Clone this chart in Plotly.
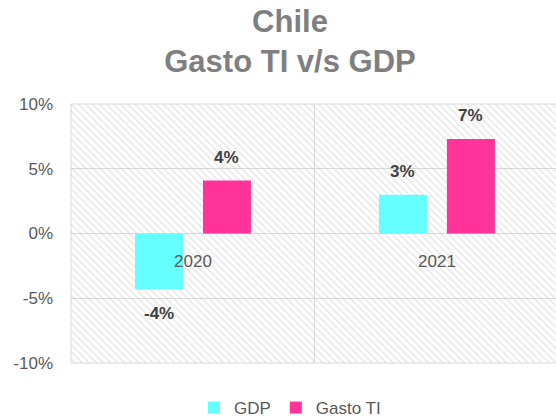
import plotly.graph_objects as go

# ---- data ----
categories = ["2020", "2021"]
gdp = [-4.3, 3.0]
gasto_ti = [4.1, 7.3]
series_names = ["GDP", "Gasto TI"]
y_tick_vals = [-10, -5, 0, 5, 10]
y_tick_text = ["-10%", "-5%", "0%", "5%", "10%"]
title_lines = ["Chile", "Gasto TI v/s GDP"]

colors = ["#66FFFF", "#FF3399"]
grid = "#D9D9D9"
font_family = "Liberation Sans, Arial, sans-serif"

fig = go.Figure()

# hatched plot-area background (decoration on a hidden unit axis)
fig.add_trace(go.Scatter(
    x=[0, 1, 1, 0, 0], y=[0, 0, 1, 1, 0], mode="lines", fill="toself",
    line=dict(width=0), fillcolor="rgba(255,255,255,0)",
    fillpattern=dict(shape="\\", size=5, solidity=0.3, fgcolor="#CFCFCF",
                     bgcolor="rgba(255,255,255,0)"),
    hoverinfo="skip", showlegend=False, xaxis="x", yaxis="y",
))

for name, vals, col in zip(series_names, [gdp, gasto_ti], colors):
    fig.add_trace(go.Bar(
        x=categories, y=vals, name=name, marker=dict(color=col, line=dict(width=0)),
        xaxis="x2", yaxis="y2", hoverinfo="skip",
    ))

# data labels
shifts = [-34, 34]
for vals, xs in zip([gdp, gasto_ti], shifts):
    for i, (c, v) in enumerate(zip(categories, vals)):
        fig.add_annotation(
            x=i, y=v, xref="x2", yref="y2", text=f"<b>{round(v):d}%</b>", showarrow=False,
            xshift=xs, yshift=23 if v >= 0 else -24, yanchor="middle", xanchor="center",
            font=dict(family=font_family, size=17, color="#404040"),
        )

# plot-area border (left, top, bottom)
fig.add_shape(type="path", xref="paper", yref="paper",
              path="M 1.01,1 L 0,1 L 0,0 L 1.01,0",
              line=dict(color=grid, width=1), layer="above")

fig.update_layout(
    width=556, height=420,
    margin=dict(l=71, r=0, t=104, b=57, autoexpand=False),
    paper_bgcolor="white", plot_bgcolor="white",
    barmode="group", bargap=0.443, bargroupgap=0.294,
    title=dict(text="<b>" + "<br>".join(title_lines) + "</b>", x=290 / 556, xanchor="center",
               xref="container", yref="container", y=1 - 32 / 420, yanchor="top",
               font=dict(family=font_family, size=31, color="#7F7F7F")),
    xaxis=dict(domain=[0, 1], range=[0, 1], visible=False, fixedrange=True),
    yaxis=dict(domain=[0, 1], range=[0, 1], visible=False, fixedrange=True),
    xaxis2=dict(overlaying="x", type="category", anchor="free", position=0.5,
                range=[-0.5, 1.488], tickson="boundaries", showgrid=True,
                gridcolor=grid, gridwidth=1, ticks="", showline=False,
                ticklabelstandoff=15,
                tickfont=dict(family=font_family, size=17, color="#595959")),
    yaxis2=dict(overlaying="y", side="left", range=[-10, 10], tickvals=y_tick_vals,
                ticktext=y_tick_text, showgrid=True, gridcolor=grid, gridwidth=1,
                zeroline=False, showline=False, ticks="", ticklabelstandoff=17,
                tickfont=dict(family=font_family, size=17, color="#595959")),
    legend=dict(orientation="h", xref="container", yref="container",
                x=290 / 556, xanchor="center", y=12 / 420, yanchor="middle",
                font=dict(family=font_family, size=17, color="#595959"),
                itemwidth=30, tracegroupgap=0),
)

fig.write_html("out.html", config={"displayModeBar": False},
               post_script="document.body.style.margin='0';")
